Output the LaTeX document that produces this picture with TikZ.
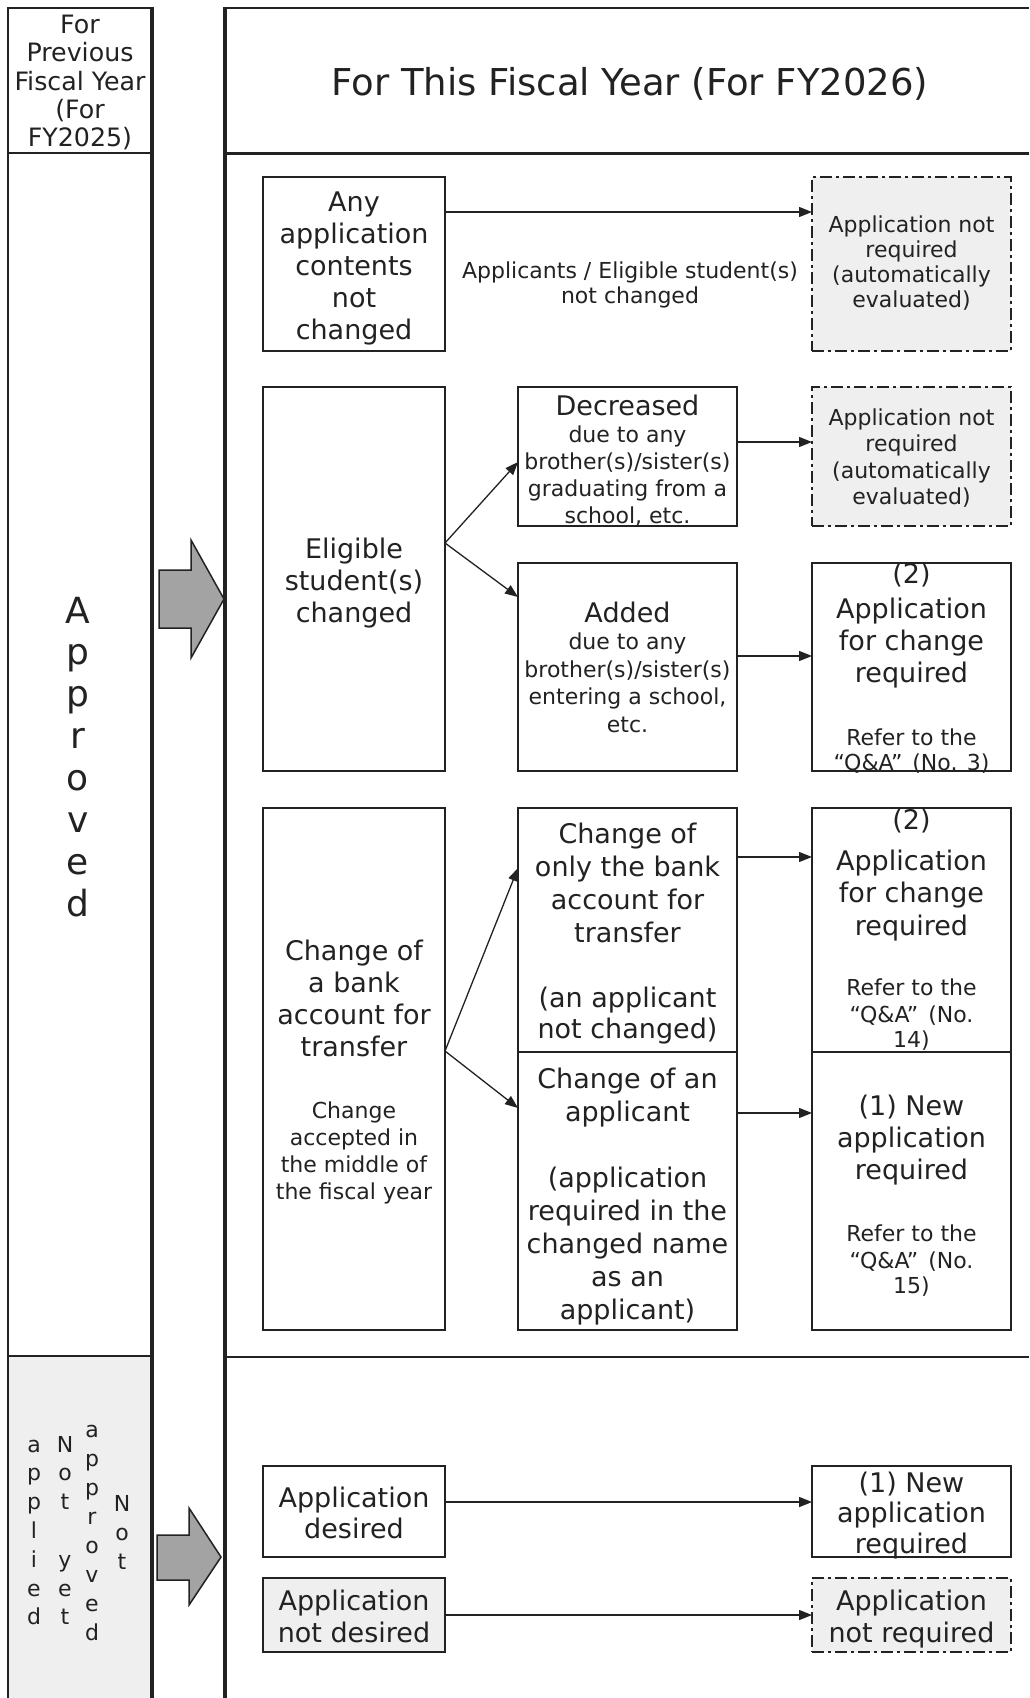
\documentclass[tikz,border=0pt]{standalone}
\usepackage{fontspec}
\setmainfont{DejaVu Sans}
\usetikzlibrary{arrows.meta}
\definecolor{ink}{HTML}{222222}
\definecolor{lightfill}{HTML}{EFEFEF}
\definecolor{arrowgray}{HTML}{A3A3A3}
\newcommand{\fbig}{\fontsize{27}{32}\selectfont}
\newcommand{\fsmall}{\fontsize{22}{27}\selectfont}
\tikzset{
  box/.style={draw=ink, line width=1.6pt, fill=white, inner sep=0pt, outer sep=0pt},
  gbox/.style={box, fill=lightfill},
  dbox/.style={draw=ink, line width=1.8pt, fill=lightfill, dash pattern=on 12pt off 4pt on 3pt off 4pt, inner sep=0pt, outer sep=0pt},
  txt/.style={align=center, text=ink, inner sep=0pt, anchor=base, font=\fbig},
  arr/.style={draw=ink, line width=1.3pt, -{Triangle[length=13pt,width=10pt]}},
  blockarrow/.style={fill=arrowgray, draw=ink, line width=1.5pt, line join=miter},
}
\begin{document}
\begin{tikzpicture}[x=1pt, y=-1pt]
\useasboundingbox (0,0) rectangle (1029,1698);
\fill[white] (0,0) rectangle (1029,1698);

% ---------- left column (previous fiscal year) ----------
\fill[lightfill] (8,1356) rectangle (152,1698);
\draw[ink, line width=1.5pt] (8,1698) -- (8,8) -- (152,8);
\draw[ink, line width=3.5pt] (152,6.5) -- (152,1698);
\draw[ink, line width=2.5pt] (8,153) -- (152,153);
\draw[ink, line width=2pt] (8,1356) -- (152,1356);

% ---------- right frame (this fiscal year) ----------
\draw[ink, line width=3.5pt] (225,6.5) -- (225,1698);
\draw[ink, line width=2pt] (225,8) -- (1029,8);
\draw[ink, line width=3pt] (225,153) -- (1029,153);
\draw[ink, line width=2.5pt] (225,1357) -- (1029,1357);

% ---------- headers (anchor = baseline of last line) ----------
\node[txt, font=\fontsize{25.3}{28.3}\selectfont] (prevhdr) at (80,146.7) {For\\Previous\\Fiscal Year\\(For\\FY2025)};
\node[txt, font=\fontsize{37}{44}\selectfont] (thishdr) at (630,95) {For This Fiscal Year (For FY2026)};

% ---------- vertical labels ----------
\node[txt, font=\fontsize{36}{41.9}\selectfont] (appr) at (78,916.3) {A\\p\\p\\r\\o\\v\\e\\d};
\node[txt, font=\fontsize{22}{28.8}\selectfont] (vapplied) at (34,1624.8) {a\\p\\p\\l\\i\\e\\d};
\node[txt, font=\fontsize{22}{28.8}\selectfont] (vnotyet) at (65,1624.8) {N\\o\\t\\ \\y\\e\\t};
\node[txt, font=\fontsize{22}{29}\selectfont] (vapproved) at (92,1640) {a\\p\\p\\r\\o\\v\\e\\d};
\node[txt, font=\fontsize{22}{29}\selectfont] (vnot) at (122,1569) {N\\o\\t};

% ---------- block arrows ----------
\filldraw[blockarrow] (159,570) -- (191,570) -- (191,540) -- (224,599) -- (191,658) -- (191,628) -- (159,628) -- cycle;
\filldraw[blockarrow] (157,1535) -- (189,1535) -- (189,1508) -- (221,1557) -- (189,1605) -- (189,1580) -- (157,1580) -- cycle;

% ---------- row 1 ----------
\node[box, minimum width=182pt, minimum height=174pt] (b1) at (354,264) {};
\node[dbox, minimum width=199pt, minimum height=174pt] (d1) at (911.5,264) {};
\node[txt] (b1t) at (354,339) {Any\\application\\contents\\not\\changed};
\node[txt, font=\fontsize{22}{25}\selectfont] (lbl) at (630,303) {Applicants / Eligible student(s)\\not changed};
\node[txt, font=\fontsize{22}{25}\selectfont] (d1t) at (911.5,307) {Application not\\required\\(automatically\\evaluated)};
\draw[arr] ([yshift=52pt]b1.east) -- ([yshift=52pt]d1.west);

% ---------- row 2 ----------
\node[box, minimum width=182pt, minimum height=384pt] (elig) at (354,579) {};
\node[box, minimum width=219pt, minimum height=139pt] (dec) at (627.5,456.5) {};
\node[dbox, minimum width=199pt, minimum height=139pt] (d2) at (911.5,456.5) {};
\node[box, minimum width=219pt, minimum height=208pt] (add) at (627.5,667) {};
\node[box, minimum width=199pt, minimum height=208pt] (n2a) at (911.5,667) {};
\node[txt] (eligt) at (354,622) {Eligible\\student(s)\\changed};
\node[txt, font=\fsmall] (dect) at (627.5,523) {{\fbig Decreased}\\due to any\\brother(s)/sister(s)\\graduating from a\\school, etc.};
\node[txt, font=\fontsize{22}{26.5}\selectfont] (d2t) at (911.5,504.5) {Application not\\required\\(automatically\\evaluated)};
\node[txt, font=\fontsize{22}{27.5}\selectfont] (addt) at (627.5,732) {{\fbig Added}\\due to any\\brother(s)/sister(s)\\entering a school,\\etc.};
\node[txt] (n2at) at (911.5,770) {(2)\\[3pt]Application\\for change\\required\\[31pt]{\fsmall Refer to the}\\[-7pt]{\fsmall “Q\&A”\hspace{10pt}(No. 3)}};
\draw[arr] ([yshift=36pt]elig.east) -- ([yshift=-5.5pt]dec.west);
\draw[arr] ([yshift=36pt]elig.east) -- ([yshift=70pt]add.west);
\draw[arr] ([yshift=14.5pt]dec.east) -- ([yshift=14.5pt]d2.west);
\draw[arr] ([yshift=11pt]add.east) -- ([yshift=11pt]n2a.west);

% ---------- row 3 ----------
\node[box, minimum width=182pt, minimum height=522pt] (bank) at (354,1069) {};
\node[box, minimum width=219pt, minimum height=244pt] (c2u) at (627.5,930) {};
\node[box, minimum width=219pt, minimum height=278pt] (c2l) at (627.5,1191) {};
\node[box, minimum width=199pt, minimum height=244pt] (c3u) at (911.5,930) {};
\node[box, minimum width=199pt, minimum height=278pt] (c3l) at (911.5,1191) {};
\node[txt] (bankt) at (354,1199) {Change of\\a bank\\account for\\transfer\\[30pt]{\fsmall Change}\\[-5pt]{\fsmall accepted in}\\[-5pt]{\fsmall the middle of}\\[-5pt]{\fsmall the fiscal year}};
\node[txt] (c2ut) at (627.5,1038) {Change of\\[1pt]only the bank\\[1pt]account for\\[1pt]transfer\\[33pt](an applicant\\[-1pt]not changed)};
\node[txt] (c2lt) at (627.5,1319) {Change of an\\[1pt]applicant\\[34pt](application\\[1pt]required in the\\[1pt]changed name\\[1pt]as an\\[1pt]applicant)};
\node[txt] (c3ut) at (911.5,1047) {(2)\\[9pt]Application\\for change\\[1pt]required\\[28pt]{\fsmall Refer to the}\\[-5pt]{\fsmall “Q\&A”\hspace{10pt}(No.}\\[-7pt]{\fsmall 14)}};
\node[txt] (c3lt) at (911.5,1293) {(1) New\\application\\required\\[30pt]{\fsmall Refer to the}\\[-5pt]{\fsmall “Q\&A”\hspace{10pt}(No.}\\[-7pt]{\fsmall 15)}};
\draw[arr] ([yshift=18pt]bank.east) -- ([yshift=62pt]c2u.west);
\draw[arr] ([yshift=18pt]bank.east) -- ([yshift=83pt]c2l.west);
\draw[arr] ([yshift=73pt]c2u.east) -- ([yshift=73pt]c3u.west);
\draw[arr] ([yshift=78pt]c2l.east) -- ([yshift=78pt]c3l.west);

% ---------- bottom section ----------
\node[box, minimum width=182pt, minimum height=91pt] (des) at (354,1511.5) {};
\node[box, minimum width=199pt, minimum height=91pt] (n1b) at (911.5,1511.5) {};
\node[gbox, minimum width=182pt, minimum height=74pt] (nd) at (354,1615) {};
\node[dbox, minimum width=199pt, minimum height=74pt] (d3) at (911.5,1615) {};
\node[txt, font=\fontsize{27}{31}\selectfont] (dest) at (354,1538) {Application\\desired};
\node[txt, font=\fontsize{27}{30.5}\selectfont] (n1bt) at (911.5,1553) {(1) New\\application\\required};
\node[txt] (ndt) at (354,1642) {Application\\not desired};
\node[txt] (d3t) at (911.5,1642) {Application\\not required};
\draw[arr] ([yshift=9.5pt]des.east) -- ([yshift=9.5pt]n1b.west);
\draw[arr] (nd.east) -- (d3.west);
\end{tikzpicture}
\end{document}
